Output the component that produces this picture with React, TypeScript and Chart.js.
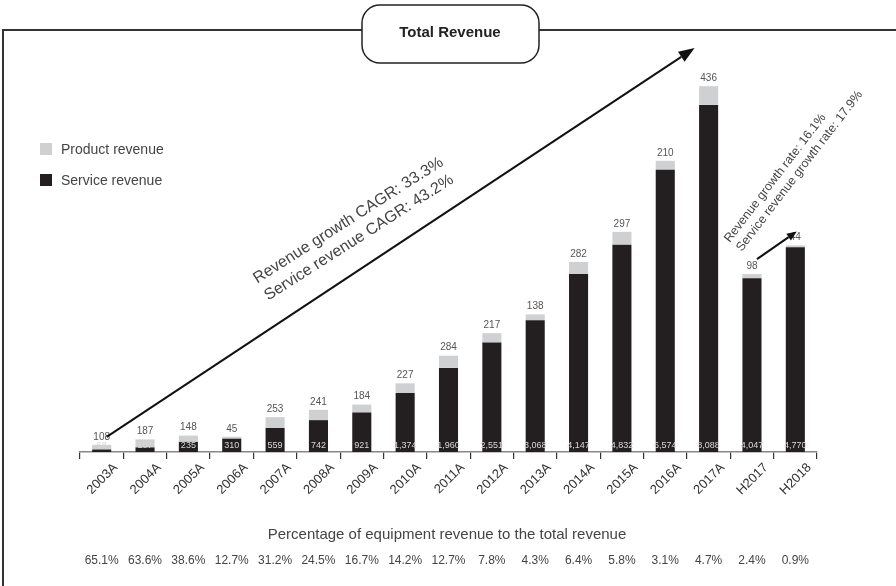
import React, { useEffect, useRef } from "react";
import { Chart, registerables } from "chart.js";

Chart.register(...registerables);

const categories = ["2003A", "2004A", "2005A", "2006A", "2007A", "2008A", "2009A", "2010A", "2011A", "2012A", "2013A", "2014A", "2015A", "2016A", "2017A", "H2017", "H2018"];
const serviceRevenue = [58, 107, 235, 310, 559, 742, 921, 1374, 1960, 2551, 3068, 4147, 4832, 6574, 8088, 4047, 4770];
const productRevenue = [108, 187, 148, 45, 253, 241, 184, 227, 284, 217, 138, 282, 297, 210, 436, 98, 44];
const equipmentShare = ["65.1%", "63.6%", "38.6%", "12.7%", "31.2%", "24.5%", "16.7%", "14.2%", "12.7%", "7.8%", "4.3%", "6.4%", "5.8%", "3.1%", "4.7%", "2.4%", "0.9%"];

const FONT = "'Liberation Sans', Arial, sans-serif";
const GREY = "#cfd0d2";
const BLACK = "#231f20";

function arrow(ctx: CanvasRenderingContext2D, x1: number, y1: number, x2: number, y2: number, head: number, width: number) {
  const ang = Math.atan2(y2 - y1, x2 - x1);
  const bx = x2 - head * Math.cos(ang);
  const by = y2 - head * Math.sin(ang);
  ctx.save();
  ctx.strokeStyle = "#111";
  ctx.fillStyle = "#111";
  ctx.lineWidth = 2;
  ctx.beginPath();
  ctx.moveTo(x1, y1);
  ctx.lineTo(bx, by);
  ctx.stroke();
  ctx.beginPath();
  ctx.moveTo(x2, y2);
  ctx.lineTo(bx + (width / 2) * Math.sin(ang), by - (width / 2) * Math.cos(ang));
  ctx.lineTo(bx - (width / 2) * Math.sin(ang), by + (width / 2) * Math.cos(ang));
  ctx.closePath();
  ctx.fill();
  ctx.restore();
}

function rotText(ctx: CanvasRenderingContext2D, text: string, x: number, y: number, deg: number, font: string, color: string) {
  ctx.save();
  ctx.translate(x, y);
  ctx.rotate((deg * Math.PI) / 180);
  ctx.font = font;
  ctx.fillStyle = color;
  ctx.textAlign = "left";
  ctx.textBaseline = "middle";
  ctx.fillText(text, 0, 0);
  ctx.restore();
}

const decorPlugin = {
  id: "decor",
  beforeDraw(chart: any) {
    const ctx = chart.ctx as CanvasRenderingContext2D;
    ctx.save();
    ctx.fillStyle = "#fff";
    ctx.fillRect(0, 0, chart.width, chart.height);
    // frame
    ctx.strokeStyle = "#333";
    ctx.lineWidth = 2;
    ctx.beginPath();
    ctx.moveTo(3, chart.height);
    ctx.lineTo(3, 30);
    ctx.lineTo(chart.width, 30);
    ctx.stroke();
    // title box
    ctx.fillStyle = "#fff";
    ctx.strokeStyle = "#222";
    ctx.lineWidth = 1.5;
    ctx.beginPath();
    (ctx as any).roundRect(362, 5, 177, 58, 18);
    ctx.fill();
    ctx.stroke();
    ctx.fillStyle = "#222";
    ctx.font = `bold 15px ${FONT}`;
    ctx.textAlign = "center";
    ctx.textBaseline = "middle";
    ctx.fillText("Total Revenue", 450, 33);
    // legend
    ctx.fillStyle = GREY;
    ctx.fillRect(40, 143, 12, 12);
    ctx.fillStyle = BLACK;
    ctx.fillRect(40, 174, 12, 12);
    ctx.fillStyle = "#444";
    ctx.font = `14px ${FONT}`;
    ctx.textAlign = "left";
    ctx.fillText("Product revenue", 61, 150);
    ctx.fillText("Service revenue", 61, 181);
    ctx.restore();
  },
  afterDatasetsDraw(chart: any) {
    const ctx = chart.ctx as CanvasRenderingContext2D;
    const xs = chart.scales.x;
    const ys = chart.scales.y;
    const area = chart.chartArea;
    ctx.save();
    ctx.textAlign = "center";
    ctx.textBaseline = "middle";
    categories.forEach((_, i) => {
      const cx = xs.getPixelForValue(i);
      const top = ys.getPixelForValue(serviceRevenue[i] + productRevenue[i]);
      ctx.font = `10px ${FONT}`;
      ctx.fillStyle = "#555";
      ctx.fillText(String(productRevenue[i]), cx, top - 8);
      ctx.font = `9px ${FONT}`;
      ctx.fillStyle = "#d8d8d8";
      ctx.fillText(serviceRevenue[i].toLocaleString("en-US"), cx, area.bottom - 6.5);
      ctx.font = `12px ${FONT}`;
      ctx.fillStyle = "#444";
      ctx.fillText(equipmentShare[i], cx, 561);
    });
    ctx.font = `15px ${FONT}`;
    ctx.fillStyle = "#444";
    ctx.fillText("Percentage of equipment revenue to the total revenue", 447, 535);

    // big arrow
    const sx = xs.getPixelForValue(0) + 5;
    const sy = ys.getPixelForValue(serviceRevenue[0] + productRevenue[0]) - 8;
    const ex = xs.getPixelForValue(14) - 14;
    const ey = area.top + 8;
    arrow(ctx, sx, sy, ex, ey, 16, 12);
    rotText(ctx, "Revenue growth CAGR: 33.3%", 255, 280, -32.5, `16px ${FONT}`, "#444");
    rotText(ctx, "Service revenue CAGR: 43.2%", 266, 297, -32.5, `16px ${FONT}`, "#444");

    // small arrow
    const s2x = xs.getPixelForValue(15) + 5;
    const s2y = ys.getPixelForValue(serviceRevenue[15] + productRevenue[15]) - 15;
    const e2x = xs.getPixelForValue(16) + 1.5;
    const e2y = ys.getPixelForValue(serviceRevenue[16] + productRevenue[16]) - 14;
    arrow(ctx, s2x, s2y, e2x, e2y, 10, 8);
    rotText(ctx, "Revenue growth rate: 16.1%", 727, 241, -52.5, `12.5px ${FONT}`, "#444");
    rotText(ctx, "Service revenue growth rate: 17.9%", 739, 250, -52.5, `12.5px ${FONT}`, "#444");
    ctx.restore();
  },
};

export default function App() {
  const ref = useRef<HTMLCanvasElement | null>(null);
  useEffect(() => {
    if (!ref.current) return;
    const chart = new Chart(ref.current, {
      type: "bar",
      data: {
        labels: categories,
        datasets: [
          { label: "Service revenue", data: serviceRevenue, backgroundColor: BLACK },
          { label: "Product revenue", data: productRevenue, backgroundColor: GREY },
        ],
      },
      options: {
        responsive: false,
        animation: false,
        layout: { padding: { left: 80, right: 79, top: 40, bottom: 82 } },
        datasets: { bar: { categoryPercentage: 1, barPercentage: 0.44 } },
        plugins: { legend: { display: false }, tooltip: { enabled: false }, title: { display: false } },
        scales: {
          x: {
            stacked: true,
            grid: { offset: true, drawOnChartArea: false, drawTicks: true, tickLength: 7, color: "#333", lineWidth: 1.2 },
            border: { display: true, color: "#888", width: 1.5 },
            ticks: {
              autoSkip: false,
              minRotation: 45,
              maxRotation: 45,
              color: "#333",
              font: { size: 13, family: FONT },
              padding: 1,
              labelOffset: 14,
            },
            afterFit: (axis: any) => {
              axis.height = 52;
            },
          },
          y: { stacked: true, display: false, min: 0, max: 9600 },
        },
      },
      plugins: [decorPlugin],
    } as any);
    return () => chart.destroy();
  }, []);
  return (
    <div style={{ position: "fixed", left: 0, top: 0, width: 896, height: 586, background: "#fff" }}>
      <canvas ref={ref} width={896} height={586} style={{ display: "block" }} />
    </div>
  );
}
